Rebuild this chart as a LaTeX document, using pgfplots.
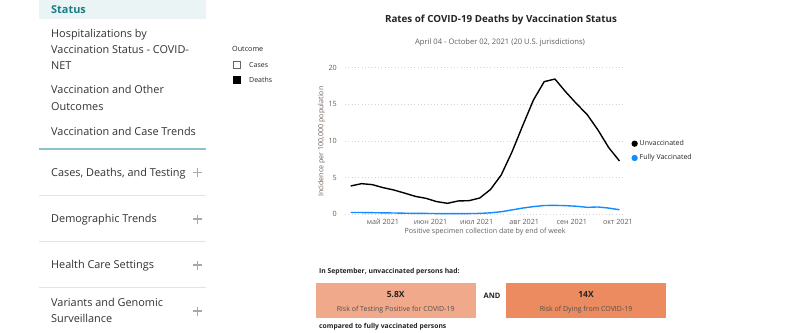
\documentclass[border=0pt]{standalone}
\usepackage{fontspec}
\setmainfont{Open Sans}
\usepackage{pgfplots}
\usepackage{pgfplotstable}
\pgfplotsset{compat=1.18}
\definecolor{pbblue}{HTML}{118DFF}
\definecolor{tealt}{HTML}{1C7C88}
\definecolor{statusbg}{HTML}{EAF4F4}
\definecolor{side}{HTML}{333333}
\definecolor{tealline}{HTML}{8CC3CB}
\definecolor{sepc}{HTML}{E3E3E3}
\definecolor{plusc}{HTML}{A8A8A8}
\definecolor{boxA}{HTML}{F0A98A}
\definecolor{boxB}{HTML}{EB8B5F}
\definecolor{titlec}{HTML}{252423}
\definecolor{subc}{HTML}{605E5C}
\definecolor{ylab}{HTML}{6E5E58}
\newcommand\fs[1]{\fontsize{#1}{#1}\selectfont}

\pgfplotstableread{
d v
100 3.86
107 4.18
114 4.05
121 3.64
128 3.32
135 2.90
142 2.45
149 2.18
156 1.73
163 1.50
170 1.82
177 1.86
184 2.22
191 3.38
198 5.36
205 8.5
212 12.1
219 15.6
226 18.1
233 18.45
240 16.7
247 15.1
254 13.6
261 11.5
268 9.1
275 7.27
}\unvax

\pgfplotstableread{
d v
100 0.25
107 0.24
114 0.22
121 0.20
128 0.18
135 0.15
142 0.13
149 0.12
156 0.10
163 0.09
170 0.10
177 0.10
184 0.12
191 0.20
198 0.35
205 0.60
212 0.85
219 1.05
226 1.20
233 1.22
240 1.18
247 1.10
254 0.95
261 1.00
268 0.85
275 0.62
}\fullvax

\begin{document}
\begin{tikzpicture}
\path[use as bounding box, fill=white] (0,0) rectangle (800pt,-332pt);
\begin{scope}[x=1pt,y=-1pt, every node/.style={inner sep=0pt, anchor=base west}]
% sidebar
\fill[statusbg] (39,0) rectangle (206,19);
\node[text=tealt, font=\fs{10.9}\bfseries] at (51,13.8) {Status};
\begin{scope}[every node/.append style={text=side, font=\fs{10.9}}]
\node at (51,37.3) {Hospitalizations by};
\node at (51,53.9) {Vaccination Status - COVID-};
\node at (51,69.9) {NET};
\node at (51,93.9) {Vaccination and Other};
\node at (51,110.6) {Outcomes};
\node at (51,135.6) {Vaccination and Case Trends};
\node at (51,176.6) {Cases, Deaths, and Testing};
\node at (51,222.9) {Demographic Trends};
\node at (51,268.9) {Health Care Settings};
\node at (51,306.6) {Variants and Genomic};
\node at (51,322.9) {Surveillance};
\end{scope}
\draw[tealline, line width=1.5pt] (39,149) -- (206,149);
\foreach \yy in {195.7,241.3,287.3} \draw[sepc, line width=0.8pt] (39,\yy) -- (206,\yy);
\foreach \yy in {172.7,219,265,311} {
  \draw[plusc, line width=1.3pt] (193.2,\yy) -- (202.2,\yy);
  \draw[plusc, line width=1.3pt] (197.7,\yy-4.5) -- (197.7,\yy+4.5);
}
% slicer legend
\node[text=titlec, font=\fs{7.2}] at (232,51.8) {Outcome};
\draw[gray!80!black, line width=0.9pt] (233.5,61.5) rectangle (240.5,68.5);
\node[text=titlec, font=\fs{7}] at (249,67.5) {Cases};
\fill[black] (233,76) rectangle (241,84);
\node[text=titlec, font=\fs{7}] at (249,82.5) {Deaths};
% titles
\node[anchor=base, text=titlec, font=\fs{9.8}\bfseries] at (501,22.5) {Rates of COVID-19 Deaths by Vaccination Status};
\node[anchor=base, text=subc, font=\fs{7.6}] at (500,44) {April 04 - October 02, 2021 (20 U.S. jurisdictions)};
% bottom
\node[text=titlec, font=\fs{6.8}\bfseries] at (319,273.5) {In September, unvaccinated persons had:};
\fill[boxA] (316,283) rectangle (475.5,318);
\fill[boxB] (506,283) rectangle (666,318);
\node[anchor=base, text=titlec, font=\fs{8.5}\bfseries] at (395.7,297.8) {5.8X};
\node[anchor=base, text=titlec!80, font=\fs{7}] at (395.7,311.5) {Risk of Testing Positive for COVID-19};
\node[anchor=base, text=titlec, font=\fs{7.5}\bfseries] at (492,298.5) {AND};
\node[anchor=base, text=titlec, font=\fs{8.5}\bfseries] at (586,297.8) {14X};
\node[anchor=base, text=titlec!80, font=\fs{7}] at (586,311.5) {Risk of Dying from COVID-19};
\node[text=titlec, font=\fs{6.8}\bfseries] at (319,328.5) {compared to fully vaccinated persons};
\end{scope}

\begin{axis}[
  at={(345pt,-214.3pt)}, anchor=south west,
  scale only axis, width=278pt, height=146.6pt,
  xmin=96.3, xmax=277.3, ymin=0, ymax=20,
  clip=false,
  axis line style={draw=none},
  major tick length=0pt,
  ytick={0,5,10,15,20},
  xtick={121,152,182,213,244,274},
  xticklabels={май 2021,июн 2021,июл 2021,авг 2021,сен 2021,окт 2021},
  ymajorgrids,
  grid style={dash pattern=on 0.7pt off 2.6pt, black!17, line width=0.7pt},
  /pgf/number format/assume math mode=true,
  ticklabel style={font=\fs{7.2}, text=subc},
  yticklabel style={anchor=east, inner sep=0pt, xshift=-8pt},
  xticklabel style={anchor=center, inner sep=0pt, yshift=-8pt},
  xlabel={Positive specimen collection date by end of week},
  ylabel={Incidence per 100,000 population},
  xlabel style={font=\fs{7.1}, text=subc, at={(axis description cs:0.504,-0.121)}, anchor=center, inner sep=0pt},
  ylabel style={font=\fs{7.1}, text=ylab, at={(axis description cs:-0.084,0.495)}, anchor=center, inner sep=0pt, rotate=0},
  legend style={at={(axis description cs:1.03,0.52)}, anchor=north west, draw=none, fill=none, font=\fs{7}, text=titlec, row sep=3.5pt, inner sep=0pt},
  legend cell align=left,
  legend image code/.code={\fill[#1] (2.3pt,0pt) circle (2.4pt);},
]
\addplot[black, line width=1.4pt] table[x=d, y=v] {\unvax};
\addlegendentry{Unvaccinated}
\addplot[pbblue, line width=1.4pt] table[x=d, y=v] {\fullvax};
\addlegendentry{Fully Vaccinated}
\end{axis}
\end{tikzpicture}
\end{document}
